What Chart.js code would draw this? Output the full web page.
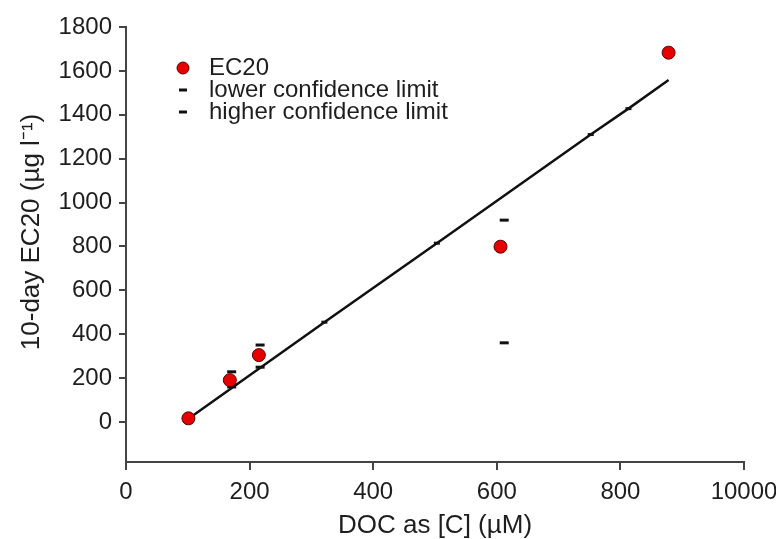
<!DOCTYPE html>
<html>
<head>
<meta charset="utf-8">
<script src="https://cdn.jsdelivr.net/npm/chart.js@4.4.1/dist/chart.umd.min.js"></script>
<style>
  html, body { margin: 0; padding: 0; overflow: hidden; background: #fff; }
  #wrap { width: 800px; height: 539px; }
</style>
</head>
<body>
<div id="wrap"><canvas id="c" width="800" height="539"></canvas></div>
<script>
// EC20 estimates against dissolved organic carbon
const docC = [101, 168, 215, 606, 878];
const ec20 = [17, 191, 305, 799, 1683];

// confidence limits of the EC20 estimates
const lowerX = [171, 217, 612];
const lowerCL = [160, 250, 361];
const higherX = [171, 217, 612];
const higherCL = [229, 351, 920];

// fitted regression line
const fitX = [101, 321, 503, 752, 813, 878];
const fitY = [15, 455, 815, 1310, 1428, 1559];

// axis ticks and titles
const xTicks = [0, 200, 400, 600, 800, 1000];
const xTickLabels = ['0', '200', '400', '600', '800', '10000'];
const yTicks = [0, 200, 400, 600, 800, 1000, 1200, 1400, 1600, 1800];
const xTitle = 'DOC as [C] (µM)';
const yTitle = '10-day EC20 (µg l⁻¹)';

const FONT = '"Liberation Sans", Arial, Helvetica, sans-serif';
const INK = '#1e1e1e';
const AXIS = '#444';

const pts = (xs, ys) => xs.map((x, i) => ({ x: x, y: ys[i] }));

// legend inside the plot area (top-left) and the rotated y-axis title
const annotations = {
  id: 'annotations',
  afterDatasetsDraw(chart) {
    const ctx = chart.ctx;
    const a = chart.chartArea;
    const x0 = a.left + 57, tx = a.left + 83;
    const rows = [a.top + 41, a.top + 63, a.top + 85];
    const ds = chart.data.datasets;
    ctx.save();
    ctx.font = '24px ' + FONT;
    ctx.textBaseline = 'middle';
    ctx.textAlign = 'left';
    ctx.beginPath();
    ctx.arc(x0, rows[0], 6, 0, Math.PI * 2);
    ctx.fillStyle = ds[0].backgroundColor;
    ctx.fill();
    ctx.lineWidth = 1;
    ctx.strokeStyle = ds[0].borderColor;
    ctx.stroke();
    ctx.strokeStyle = '#111';
    ctx.lineWidth = 3;
    [rows[1], rows[2]].forEach(y => {
      ctx.beginPath();
      ctx.moveTo(x0 - 4, y);
      ctx.lineTo(x0 + 4, y);
      ctx.stroke();
    });
    ctx.fillStyle = INK;
    ctx.fillText(ds[0].label, tx, rows[0]);
    ctx.fillText(ds[1].label, tx, rows[1]);
    ctx.fillText(ds[2].label, tx, rows[2]);

    // y-axis title
    ctx.translate(32, a.top + 205);
    ctx.rotate(-Math.PI / 2);
    ctx.textAlign = 'center';
    ctx.font = '26px ' + FONT;
    ctx.fillText(yTitle, 0, 0);
    ctx.restore();
  }
};

new Chart(document.getElementById('c'), {
  type: 'scatter',
  data: {
    datasets: [
      {
        label: 'EC20',
        data: pts(docC, ec20),
        backgroundColor: '#e60000',
        borderColor: '#5a0000',
        borderWidth: 1,
        pointRadius: 6.5,
        order: 0
      },
      {
        label: 'lower confidence limit',
        data: pts(lowerX, lowerCL),
        pointStyle: 'line',
        pointRadius: 4.5,
        borderColor: '#111',
        borderWidth: 3,
        order: 1
      },
      {
        label: 'higher confidence limit',
        data: pts(higherX, higherCL),
        pointStyle: 'line',
        pointRadius: 4.5,
        borderColor: '#111',
        borderWidth: 3,
        order: 1
      },
      {
        label: 'fit',
        data: pts(fitX, fitY),
        showLine: true,
        borderColor: '#111',
        borderWidth: 2.5,
        pointStyle: 'line',
        pointRadius: ctx => (ctx.dataIndex === 0 || ctx.dataIndex === fitX.length - 1) ? 0 : 3,
        pointBorderWidth: 3,
        pointBorderColor: '#111',
        order: 2
      }
    ]
  },
  options: {
    responsive: false,
    animation: false,
    layout: { padding: { top: 27, right: 56, bottom: 0, left: 0 } },
    plugins: {
      legend: { display: false },
      tooltip: { enabled: false }
    },
    scales: {
      x: {
        type: 'linear',
        min: 0,
        max: 1000,
        afterBuildTicks: s => { s.ticks = xTicks.map(v => ({ value: v })); },
        afterFit: s => { s.height = 77; },
        ticks: {
          callback: v => xTickLabels[xTicks.indexOf(v)],
          font: { family: FONT, size: 24 },
          color: INK,
          padding: 8,
          maxRotation: 0,
          autoSkip: false
        },
        grid: { drawOnChartArea: false, drawTicks: true, tickLength: 8, color: AXIS, lineWidth: 2 },
        border: { display: true, color: AXIS, width: 2 },
        title: {
          display: true,
          text: xTitle,
          font: { family: FONT, size: 26, lineHeight: 1 },
          color: INK,
          padding: { top: 0, bottom: 0 }
        }
      },
      y: {
        type: 'linear',
        min: -182,
        max: 1800,
        afterBuildTicks: s => { s.ticks = yTicks.map(v => ({ value: v })); },
        afterFit: s => { s.width = 126; },
        ticks: {
          callback: v => String(v),
          font: { family: FONT, size: 24 },
          color: INK,
          padding: 7
        },
        grid: { drawOnChartArea: false, drawTicks: true, tickLength: 7, color: AXIS, lineWidth: 2 },
        border: { display: true, color: AXIS, width: 2 }
      }
    }
  },
  plugins: [annotations]
});
</script>
</body>
</html>
